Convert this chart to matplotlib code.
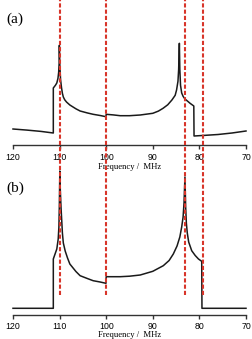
import matplotlib
matplotlib.use('Agg')
import matplotlib.pyplot as plt
from matplotlib.lines import Line2D
import matplotlib.transforms as mtransforms

# spectrum (a): frequency in MHz, intensity in arbitrary units
freq_a = [120, 117, 114, 111.35, 111.35, 110.9, 110.6, 110.35, 110.2, 110.1, 110.05,
          109.95, 109.8, 109.6, 109.4, 109.2, 108.9, 108.5, 107.8, 106.5, 105.6, 104, 102.8, 101.3, 100.05,
          100.0, 98.5, 97, 95, 92.7, 90, 88.8, 87.8, 86.8, 85.9, 85.2, 84.9, 84.6, 84.45, 84.3,
          84.2, 84.05, 83.8, 83.5, 83.1, 82.5, 82.0, 81.2, 81.15, 79, 76, 73, 70]
int_a = [16.3, 15.2, 13.9, 12.3, 57.3, 60, 62.3, 67, 73, 82, 100,
         80, 66, 58, 52, 48.3, 45.5, 43.2, 40.3, 36.5, 34.3, 32.3, 31, 29.8, 28.6,
         31, 30.4, 29.6, 29.6, 30.3, 32, 34.2, 37, 40.5, 45.3, 50, 55.3, 64, 76, 102,
         76, 60, 52.3, 49, 46.3, 44, 42, 39.3, 9.3, 9.9, 10.8, 12.3, 14.3]

# spectrum (b)
freq_b = [120, 111.35, 111.35, 110.9, 110.6, 110.3, 110.15, 110.05, 109.95,
          109.85, 109.7, 109.55, 109.4, 109.2, 108.8, 108.3, 107.8, 106.5, 105.6, 104, 102.8, 101.3, 100.05,
          100.0, 98.5, 97, 95, 92.7, 90, 87.75, 86.5, 85.6, 84.8, 84.2, 83.8, 83.5, 83.3, 83.1,
          82.95, 82.8, 82.6, 82.3, 81.65, 80.9, 80.2, 79.5, 79.45, 70]
int_b = [6.7, 6.7, 56, 62, 66, 76, 88, 110, 144,
         125, 108, 95, 82, 72, 64, 57, 51, 43.5, 39.3, 36.4, 34.3, 33, 31.7,
         38.3, 38.3, 38.3, 38.8, 40, 43.7, 49.3, 54.5, 61, 69, 78, 88, 98, 112, 138,
         108, 92, 82, 73, 64.3, 59.5, 56, 53.7, 6.7, 6.7]

# red dashed reference frequencies
marks = [110.0, 100.0, 83.1, 79.3]
ticks = [120, 110, 100, 90, 80, 70]

W, H = 253, 339
fig = plt.figure(figsize=(W / 100, H / 100), dpi=100)

def make_axes(bottom_px, top_px, labelpad):
    ax = fig.add_axes([13 / W, 1 - bottom_px / H, 233 / W, (bottom_px - top_px) / H])
    ax.set_xlim(120, 70)
    ax.set_ylim(0, bottom_px - top_px)
    for s in ['top', 'right', 'left']:
        ax.spines[s].set_visible(False)
    ax.spines['bottom'].set_color('#333333')
    ax.spines['bottom'].set_linewidth(1.0)
    ax.set_yticks([])
    ax.set_xticks(ticks)
    ax.tick_params(axis='x', direction='out', length=3, width=1.0, color='#333333',
                   pad=2.2, labelsize=6.3)
    for lab in ax.get_xticklabels():
        lab.set_family('Liberation Sans')
    ax.set_xlabel('Frequency /  MHz', family='Liberation Serif', fontsize=6.2, labelpad=labelpad)
    ax.patch.set_visible(False)
    return ax

ax_a = make_axes(145.3, 0, 0.8)
ax_a.plot(freq_a, int_a, color='#1a1a1a', lw=1.1, clip_on=False)

ax_b = make_axes(315, 164, 0.0)
ax_b.plot(freq_b, int_b, color='#1a1a1a', lw=1.1, clip_on=False)

fig.text(6 / W, 1 - 19 / H, '(a)', family='Liberation Serif', fontsize=11, va='center')
fig.text(6 / W, 1 - 188 / H, '(b)', family='Liberation Serif', fontsize=11, va='center')

# dashed red lines spanning both panels
trans = mtransforms.blended_transform_factory(ax_a.transData, fig.transFigure)
for m in marks:
    fig.add_artist(Line2D([m, m], [1 - 295 / H, 1.0], transform=trans, color='#d8352a',
                          lw=1.5, ls=(0, (2.0, 1.0)), zorder=10))

fig.savefig('out.png', dpi=100)
